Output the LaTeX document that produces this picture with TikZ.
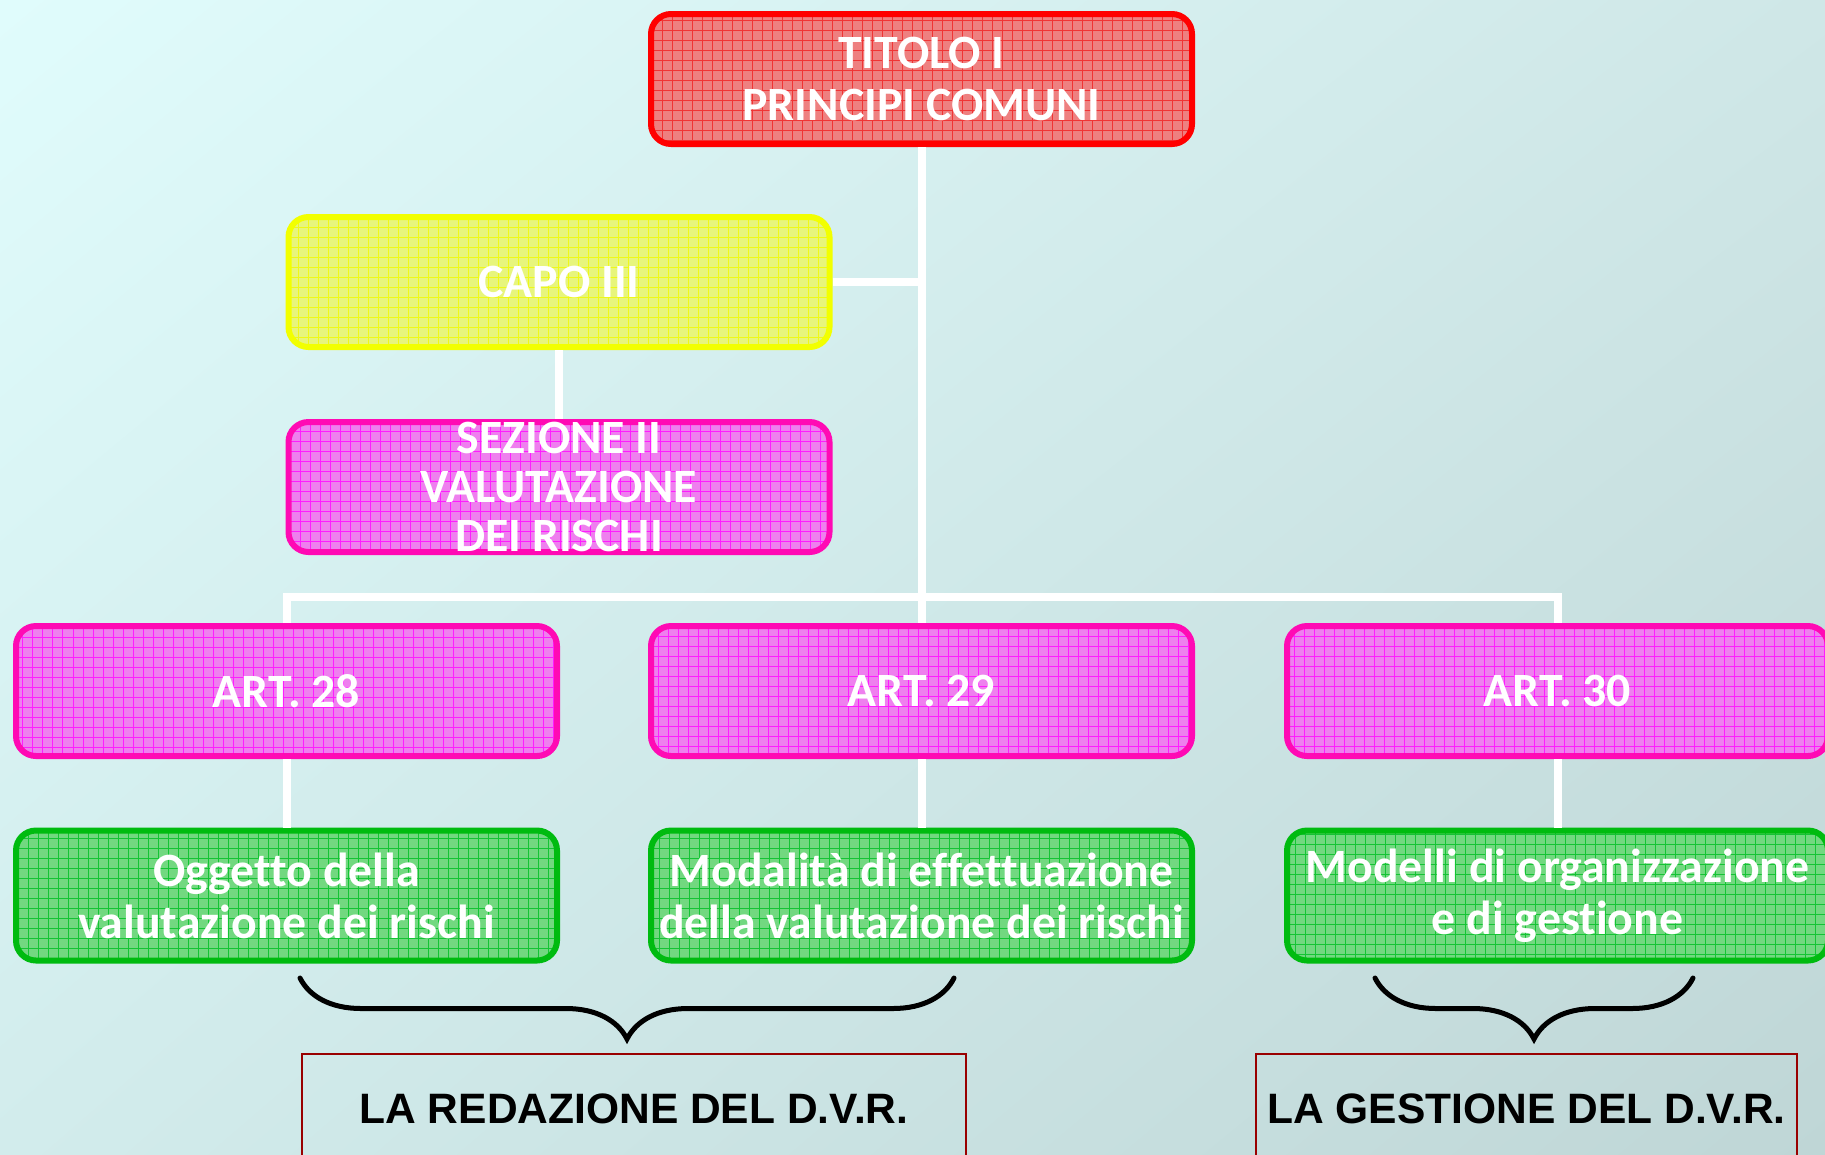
\documentclass[tikz,border=0pt]{standalone}
\usepackage{fontspec}
\setmainfont{Carlito}[Ligatures={NoCommon,NoRequired,NoContextual,NoRare},
  Contextuals=NoAlternate]
\newfontfamily\arialfont{Liberation Sans}
\usetikzlibrary{decorations.pathreplacing,shadings}

\definecolor{bgul}{HTML}{E0FCFC}
\definecolor{bgur}{HTML}{CFE7E7}
\definecolor{bgll}{HTML}{D2ECEC}
\definecolor{bglr}{HTML}{BFD6D6}
\definecolor{titolofill}{HTML}{EE8080}
\definecolor{titololine}{HTML}{FF0000}
\definecolor{titologrid}{HTML}{F03434}
\definecolor{capofill}{HTML}{E7F57C}
\definecolor{capoline}{HTML}{F2FF00}
\definecolor{capogrid}{HTML}{EEF818}
\definecolor{artfill}{HTML}{EE80EE}
\definecolor{artline}{HTML}{FF0AB4}
\definecolor{artgrid}{HTML}{FF1CFF}
\definecolor{modfill}{HTML}{72D880}
\definecolor{modline}{HTML}{00BB10}
\definecolor{modgrid}{HTML}{14C434}
\definecolor{dvrline}{HTML}{990000}

\tikzset{
	box/.style n args={3}{rounded corners=0.2cm, draw=#2, line width=0.06cm,
	  fill=#1, minimum width=5.41cm, minimum height=1.30cm, inner sep=0pt,
	  align=center, text=white, font=\bfseries\fontsize{13.6}{14.8}\selectfont,
	  path picture={\draw [#3, line width=0.25pt]
	    (path picture bounding box.south west) grid [step=0.1cm]
	    (path picture bounding box.north east);}},
	link/.style={white, line width=0.08cm},
	dvr/.style={draw=dvrline, line width=0.02cm, anchor=north, inner sep=0pt,
	  text height=0.69cm, text depth=0.6cm,
	  font=\arialfont\bfseries\fontsize{12.1}{14}\selectfont},
	curly/.style={decorate, decoration={brace, mirror, amplitude=0.61cm},
	  line width=0.05cm, line cap=round}
}

\begin{document}
\begin{tikzpicture}
	   \useasboundingbox (0,0) rectangle (18.25,-11.54);
	   \clip (0,0) rectangle (18.25,-11.54);
	   \shade [upper left=bgul, upper right=bgur, lower left=bgll, lower right=bglr]
	     (0,0) rectangle (18.25,-11.54);
	   % titolo, capo, sezione
	   \node (titolo) at (9.215,-0.79)
	     [box={titolofill}{titololine}{titologrid}] {TITOLO I\\PRINCIPI COMUNI};
	   \node (capo) at (5.59,-2.82)
	     [box={capofill}{capoline}{capogrid}] {CAPO III};
	   \node (sezione) at (5.59,-4.87)
	     [box={artfill}{artline}{artgrid},
	      font=\bfseries\fontsize{13.6}{13.9}\selectfont] {SEZIONE II\\VALUTAZIONE\\DEI RISCHI};
	   % articoli
	   \foreach \n/\x/\txt in {28/2.865/{Oggetto della\\valutazione dei rischi},
	       29/9.215/{Modalit\`a di effettuazione\\della valutazione dei rischi},
	       30/15.575/{Modelli di organizzazione\\e di gestione}} {
	     \node (art\n) at (\x,-6.91)
	      [box={artfill}{artline}{artgrid}] {ART. \n};
	     \node (mod\n) at (\x,-8.955)
	      [box={modfill}{modline}{modgrid}] {\txt};
	   }
	   \coordinate (bar) at (9.215,-5.97);
	   \draw [link]
	     (titolo.south) -- (art29.north)
	     (capo.east) -- (capo.east -| titolo.south)
	     (capo.south) -- (sezione.north);
	   \draw [link] (art28.north) |- (bar) -| (art30.north);
	   \foreach \n in {28,29,30}
	     \draw [link] (art\n.south) -- (mod\n.north);
	   % D.V.R.
	   \node (redazione) at (6.34,-10.53) [dvr, minimum width=6.64cm]
	     {LA REDAZIONE DEL D.V.R.};
	   \node (gestione) at (15.265,-10.53) [dvr, minimum width=5.41cm]
	     {LA GESTIONE DEL D.V.R.};
	   \coordinate (r1) at (3.00,-9.78);
	   \coordinate (r2) at (9.54,-9.78);
	   \coordinate (g1) at (13.75,-9.78);
	   \coordinate (g2) at (16.93,-9.78);
	   \draw [curly] (r1) -- (r2);
	   \draw [curly] (g1) -- (g2);
\end{tikzpicture}
\end{document}
